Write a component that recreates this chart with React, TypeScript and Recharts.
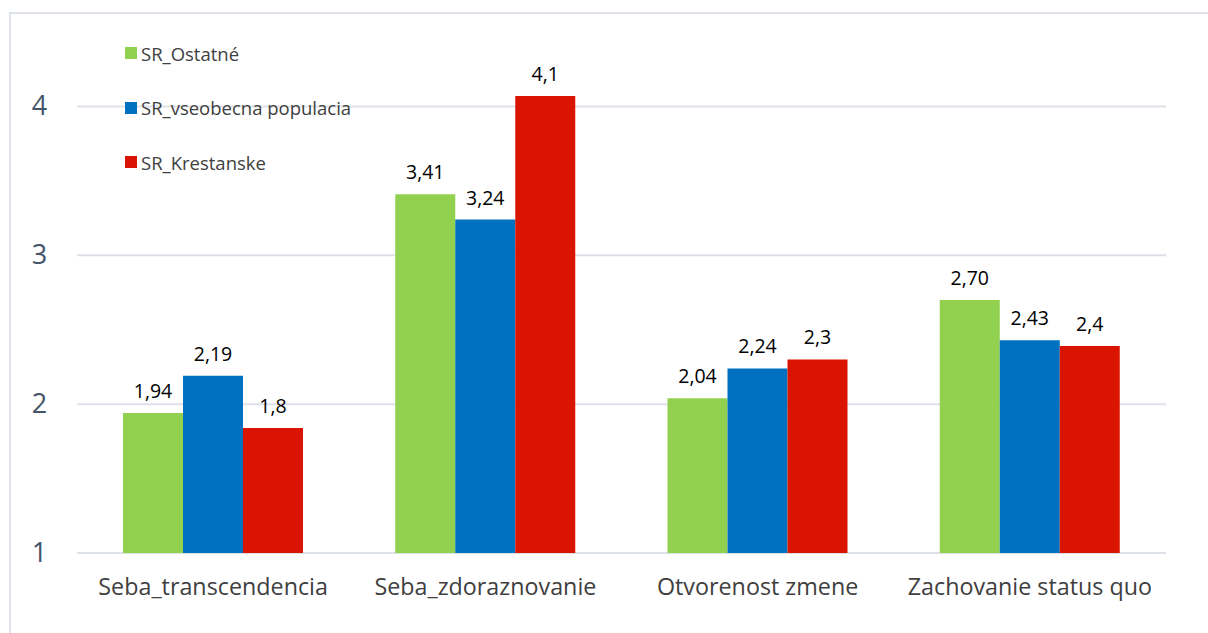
import React from 'react';
import { BarChart, Bar, XAxis, YAxis, CartesianGrid, LabelList } from 'recharts';

const categories = ['Seba_transcendencia', 'Seba_zdoraznovanie', 'Otvorenost zmene', 'Zachovanie status quo'];
const ostatne = [1.94, 3.41, 2.04, 2.70];
const ostatneLabels = ['1,94', '3,41', '2,04', '2,70'];
const vseobecna = [2.19, 3.24, 2.24, 2.43];
const vseobecnaLabels = ['2,19', '3,24', '2,24', '2,43'];
const krestanske = [1.84, 4.07, 2.30, 2.39];
const krestanskeLabels = ['1,8', '4,1', '2,3', '2,4'];
const yTicks = [1, 2, 3, 4];

const seriesNames = ['SR_Ostatné', 'SR_vseobecna populacia', 'SR_Krestanske'];
const colors = ['#92D050', '#0070C0', '#D91400'];

const data = categories.map((c, i) => ({
  name: c,
  a: ostatne[i], aL: ostatneLabels[i],
  b: vseobecna[i], bL: vseobecnaLabels[i],
  c: krestanske[i], cL: krestanskeLabels[i],
}));

const FONT = '"Open Sans", Lato, sans-serif';

const YTick = (props: any) => {
  const { y, payload } = props;
  return (
    <text x={39.5} y={y} dy={8.5} textAnchor="middle" fontSize={27} fill="#44546A" fontFamily={FONT}>
      {payload.value}
    </text>
  );
};

const XTick = (props: any) => {
  const { x, y, payload } = props;
  return (
    <text x={x} y={y} dy={34} textAnchor="middle" fontSize={23.3} fill="#404040" fontFamily={FONT}>
      {payload.value}
    </text>
  );
};

const LegendBox = () => (
  <div style={{ position: 'absolute', left: 125, top: 26, fontFamily: FONT, fontSize: 18.5, color: '#404040' }}>
    {seriesNames.map((n, i) => (
      <div key={n} style={{ display: 'flex', alignItems: 'center', height: 54.5 }}>
        <span style={{ display: 'inline-block', width: 12, height: 12, background: colors[i], marginRight: 4 }} />
        <span>{n}</span>
      </div>
    ))}
  </div>
);

export default function App() {
  return (
    <div style={{ position: 'fixed', left: 0, top: 0, width: 1208, height: 633, overflow: 'hidden', background: '#fff' }}>
      <div style={{ position: 'absolute', left: 9, top: 12, width: 1300, height: 700, border: '2px solid #DDE1E8' }} />
      <div style={{ position: 'absolute', left: 0, top: 0 }}>
        <BarChart width={1208} height={633} data={data} margin={{ top: 32, right: 42, bottom: 50, left: 0 }} barGap={0} barSize={60}>
          <CartesianGrid horizontal vertical={false} horizontalValues={yTicks} stroke="#DDE1E8" strokeWidth={2} />
          <XAxis dataKey="name" axisLine={false} tickLine={false} tick={<XTick />} interval={0} height={30} />
          <YAxis width={77} domain={[1, 4.5]} ticks={yTicks} axisLine={false} tickLine={false} tick={<YTick />} allowDataOverflow />
          <Bar dataKey="a" fill={colors[0]} isAnimationActive={false}>
            <LabelList dataKey="aL" position="top" offset={15} fontSize={19.5} fill="#000" fontFamily={FONT} />
          </Bar>
          <Bar dataKey="b" fill={colors[1]} isAnimationActive={false}>
            <LabelList dataKey="bL" position="top" offset={15} fontSize={19.5} fill="#000" fontFamily={FONT} />
          </Bar>
          <Bar dataKey="c" fill={colors[2]} isAnimationActive={false}>
            <LabelList dataKey="cL" position="top" offset={15} fontSize={19.5} fill="#000" fontFamily={FONT} />
          </Bar>
        </BarChart>
      </div>
      <LegendBox />
    </div>
  );
}
